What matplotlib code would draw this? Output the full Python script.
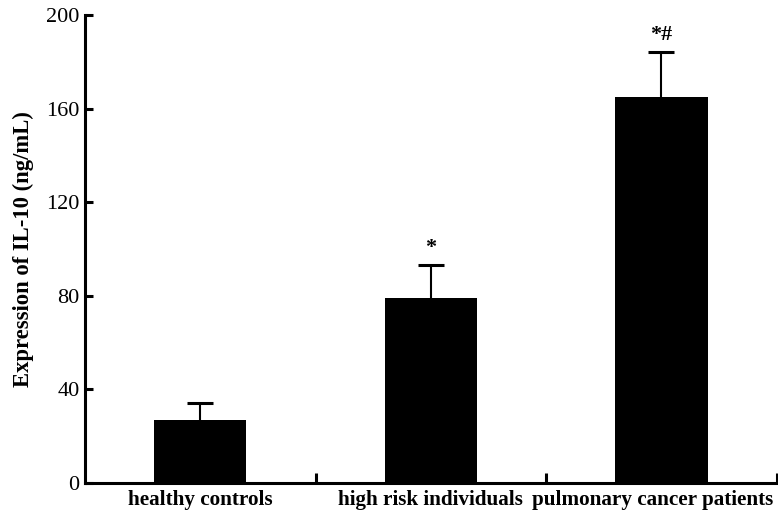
import matplotlib
matplotlib.use('Agg')
import matplotlib.pyplot as plt
import matplotlib.transforms as mtransforms
import numpy as np

groups = ['healthy controls', 'high risk individuals', 'pulmonary cancer patients']
means = [27, 79, 165]
errs = [7, 14, 19]
marks = ['', '*', '*#']
yticks = [0, 40, 80, 120, 160, 200]

plt.rcParams['font.family'] = 'Liberation Serif'

fig = plt.figure(figsize=(7.78, 5.14), dpi=100)
ax = fig.add_axes([0.1093, 0.0603, 0.889, 0.9105])

x = np.arange(len(groups))
tops = np.array(means) + np.array(errs)
ax.bar(x, means, width=0.4, color='black')
# upper error bar only, no cap on the bar top
ax.vlines(x, means, tops, color='black', linewidth=1.5)
ax.plot(x, tops, linestyle='none', marker='_', markersize=19, markeredgewidth=2.2, color='black')

for xi, t, s in zip(x, tops, marks):
    if s:
        ax.text(xi, t + 3, s, ha='center', va='bottom', fontsize=16, fontweight='bold')

ax.set_xlim(-0.5, 2.5)
ax.set_ylim(0, 200)
ax.set_yticks(yticks)
ax.set_yticklabels([str(t) for t in yticks], fontsize=16)
ax.set_xticks(x)
ax.set_xticklabels(groups, fontsize=15.2, fontweight='bold')
ax.tick_params(axis='x', length=0, pad=5)
ax.set_xticks([0.5, 1.5, 2.5], minor=True)
ax.tick_params(axis='x', which='minor', direction='in', length=7, width=2.2)
ax.tick_params(axis='y', direction='in', length=6, width=2.2, pad=4)

# last label sits a bit left so it fits in the figure
lab = ax.get_xticklabels()[-1]
lab.set_transform(lab.get_transform() + mtransforms.ScaledTranslation(-9 / 100, 0, fig.dpi_scale_trans))

ax.set_ylabel('Expression of IL-10 (ng/mL)', fontsize=16.3, fontweight='bold', labelpad=9)

for side in ['top', 'right']:
    ax.spines[side].set_visible(False)
for side in ['left', 'bottom']:
    ax.spines[side].set_linewidth(2.2)

fig.savefig('out.png', dpi=100)
